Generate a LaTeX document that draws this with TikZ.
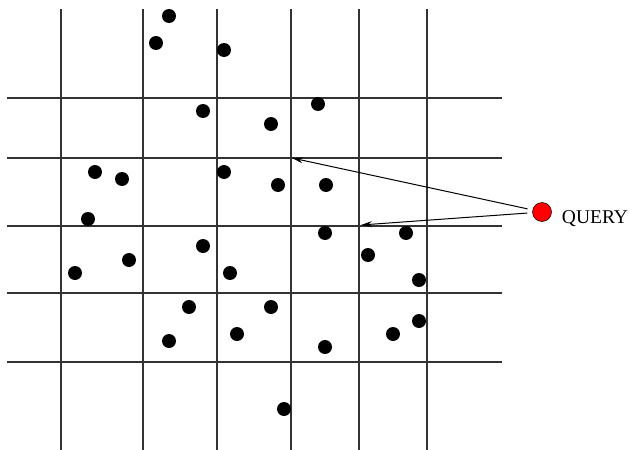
\documentclass[tikz,border=0pt]{standalone}
\usepackage{fontspec}
\setmainfont{Liberation Serif}
\usetikzlibrary{arrows.meta,positioning}
\begin{document}
\begin{tikzpicture}[x=1pt,y=-1pt,
    gridline/.style={line width=1.1pt,black!80},
    pt/.style={circle,fill=black,inner sep=0pt,minimum size=14pt},
    arr/.style={line width=1pt,-{Stealth[length=11pt,width=6pt]}}]
            \useasboundingbox (0,0) rectangle (630,450);
            % grid
            \foreach \gx in {61,143,217,291,359,427}
                \draw[gridline](\gx,9)--(\gx,450);
            \foreach \gy in {98,158,226,293,362}
                \draw[gridline](7,\gy)--(502,\gy);
            % data points
            \foreach \px/\py [count=\i] in {169/16,156/43,224/50,203/111,271/124,318/104,
                95/172,122/179,224/172,278/185,326/185,88/219,
                325/233,406/233,368/255,129/260,75/273,203/246,230/273,419/280,
                189/307,271/307,169/341,237/334,419/321,393/334,325/347,284/409}
                \node[pt] (p\i) at (\px,\py) {};
            % query and the two nearest cell corners
            \node[circle,draw=black,fill=red,inner sep=0pt,minimum size=19pt,line width=0.5pt] (query) at (542,212) {};
            \node[right=10pt of query,yshift=-7pt,inner sep=0pt,font=\fontsize{19.5}{22}\selectfont] (qlabel) {QUERY};
            \coordinate (c1) at (292,158);
            \coordinate (c2) at (361,225);
            \draw[arr,shorten <=5pt](query)--(c1);
            \draw[arr,shorten <=5pt](query)--(c2);
        \end{tikzpicture}
\end{document}
